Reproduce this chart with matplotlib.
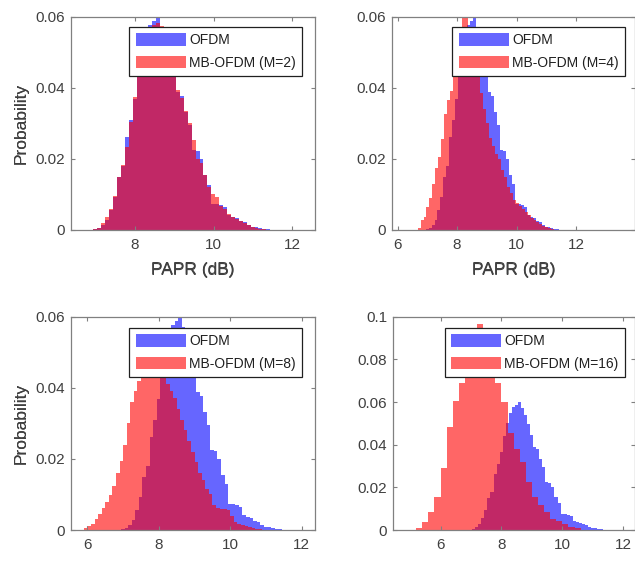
import numpy as np
import matplotlib
matplotlib.use("Agg")
import matplotlib.pyplot as plt

plt.rcParams['font.family'] = ['Liberation Sans', 'DejaVu Sans']

# ---------------- data (bin probabilities) ----------------
ofdm_start, ofdm_width = 6.94, 0.1
ofdm = [0.0002, 0.0006, 0.0013, 0.0028, 0.0055, 0.0093, 0.0150, 0.0180, 0.0262, 0.0310,
        0.0368, 0.0440, 0.0500, 0.0550, 0.0578, 0.0588, 0.0600, 0.0570, 0.0540, 0.0495,
        0.0445, 0.0388, 0.0378, 0.0332, 0.0295, 0.0224, 0.0222, 0.0200, 0.0155, 0.0128,
        0.0074, 0.0074, 0.0070, 0.0065, 0.0043, 0.0037, 0.0033, 0.0026, 0.0022, 0.0013,
        0.0009, 0.0008, 0.0005, 0.0003, 0.0002, 0.0001]

m2_start, m2_width = 6.94, 0.1
mb_m2 = [0.0002, 0.0007, 0.0020, 0.0037, 0.0058, 0.0095, 0.0150, 0.0182, 0.0235, 0.0305,
         0.0375, 0.0445, 0.0500, 0.0545, 0.0570, 0.0578, 0.0582, 0.0574, 0.0545, 0.0500,
         0.0450, 0.0394, 0.0372, 0.0335, 0.0300, 0.0253, 0.0200, 0.0188, 0.0155, 0.0120,
         0.0102, 0.0093, 0.0069, 0.0060, 0.0046, 0.0037, 0.0030, 0.0024, 0.0020, 0.0013,
         0.0008, 0.0006, 0.0004, 0.0002, 0.0001, 0.0001]

m4_start, m4_width = 6.67, 0.1
mb_m4 = [0.0005, 0.0028, 0.0037, 0.0065, 0.0090, 0.0130, 0.0175, 0.0205, 0.0255, 0.0325,
         0.0365, 0.0390, 0.0450, 0.0520, 0.0570, 0.0610, 0.0600, 0.0570, 0.0530, 0.0490,
         0.0440, 0.0385, 0.0340, 0.0300, 0.0260, 0.0235, 0.0215, 0.0200, 0.0170, 0.0150,
         0.0120, 0.0105, 0.0085, 0.0075, 0.0068, 0.0060, 0.0050, 0.0042, 0.0035, 0.0028,
         0.0022, 0.0016, 0.0011, 0.0008, 0.0005, 0.0003]

m8_start, m8_width = 5.9, 0.1
mb_m8 = [0.0006, 0.0010, 0.0018, 0.0030, 0.0045, 0.0062, 0.0080, 0.0098, 0.0125, 0.0160,
         0.0195, 0.0240, 0.0300, 0.0360, 0.0390, 0.0420, 0.0470, 0.0490, 0.0510, 0.0510,
         0.0500, 0.0480, 0.0450, 0.0410, 0.0390, 0.0370, 0.0340, 0.0310, 0.0280, 0.0250,
         0.0220, 0.0190, 0.0160, 0.0140, 0.0115, 0.0100, 0.0070, 0.0062, 0.0060, 0.0058,
         0.0055, 0.0040, 0.0022, 0.0016, 0.0014, 0.0012, 0.0009, 0.0007, 0.0004, 0.0002]

m16_start, m16_width = 5.2, 0.2
mb_m16 = [0.0011, 0.0039, 0.0086, 0.0156, 0.0292, 0.0484, 0.0605, 0.0688, 0.0800, 0.0900,
          0.0965, 0.0880, 0.0800, 0.0688, 0.0600, 0.0457, 0.0380, 0.0320, 0.0225, 0.0155,
          0.0119, 0.0084, 0.0053, 0.0040, 0.0030, 0.0014, 0.0008]

labels = ["MB-OFDM (M=2)", "MB-OFDM (M=4)", "MB-OFDM (M=8)", "MB-OFDM (M=16)"]
reds = [(mb_m2, m2_start, m2_width), (mb_m4, m4_start, m4_width),
        (mb_m8, m8_start, m8_width), (mb_m16, m16_start, m16_width)]
xlims = [(6.36, 12.58), (5.8, 14.0), (5.53, 12.37), (4.43, 12.4)]
xticks = [[8, 10, 12], [6, 8, 10, 12], [6, 8, 10, 12], [6, 8, 10, 12]]
ylims = [0.06, 0.06, 0.06, 0.1]
yticks = [[0, 0.02, 0.04, 0.06], [0, 0.02, 0.04, 0.06], [0, 0.02, 0.04, 0.06],
          [0, 0.02, 0.04, 0.06, 0.08, 0.1]]

# ---------------- layout (pixels) ----------------
W, H = 635, 585
boxes = [(70.7, 17, 315, 230), (391.7, 16.7, 635.5, 230),
         (70.7, 316.7, 315, 530), (392.7, 316.7, 635.5, 530)]
leg_anchor = [(302, 27), (625, 27), (302, 328), (625, 328)]

fig = plt.figure(figsize=(W / 100, H / 100), dpi=100)
axcol = '#808080'
txtcol = '#404040'

def edges(start, width, n):
    return np.round(start + width * np.arange(n + 1), 4)

def fmt(v):
    if v == 0:
        return '0'
    return ('%.2f' % v).rstrip('0').rstrip('.')

for i in range(4):
    l, t, r, b = boxes[i]
    ax = fig.add_axes([l / W, 1 - b / H, (r - l) / W, (b - t) / H])
    be = edges(ofdm_start, ofdm_width, len(ofdm))
    ax.stairs(ofdm, be, fill=True, color=(0, 0, 1), alpha=0.6, linewidth=0, label='OFDM')
    vals, st, wd = reds[i]
    re = edges(st, wd, len(vals))
    ax.stairs(vals, re, fill=True, color=(1, 0, 0), alpha=0.6, linewidth=0, label=labels[i])
    ax.set_xlim(*xlims[i])
    ax.set_ylim(0, ylims[i])
    ax.set_xticks(xticks[i])
    ax.set_yticks(yticks[i])
    ax.set_yticklabels([fmt(v) for v in yticks[i]])
    ax.tick_params(direction='in', length=3, width=0.8, colors=axcol, labelcolor=txtcol,
                   labelsize=11, top=True, right=True)
    ax.tick_params(axis='x', pad=5.5)
    ax.tick_params(axis='y', pad=4)
    for sp in ax.spines.values():
        sp.set_color(axcol)
        sp.set_linewidth(0.9)
    ax.set_xlabel('PAPR (dB)', fontsize=12.5, color=txtcol, fontweight='normal')
    ax.set_ylabel('Probability', fontsize=12.5, color=txtcol, fontweight='normal')
    ax.yaxis.set_label_coords(-(l - 21) / (r - l), 0.5)
    ax.xaxis.set_label_coords(0.5, -(270 - b) / (b - t))
    ax.xaxis.label.set_va('center')
    ax.yaxis.label.set_va('center')
    ax_, ay_ = leg_anchor[i]
    leg = ax.legend(loc='upper right', bbox_to_anchor=(ax_ / W, 1 - ay_ / H),
                    bbox_transform=fig.transFigure, fontsize=10, frameon=True,
                    fancybox=False, shadow=False, handlelength=3.6, handleheight=1.0,
                    handletextpad=0.25, labelspacing=0.6, borderpad=0.45,
                    borderaxespad=0.0)
    fr = leg.get_frame()
    fr.set_edgecolor('#202020')
    fr.set_linewidth(0.9)
    fr.set_alpha(1.0)
    for txt in leg.get_texts():
        txt.set_color('#202020')

fig.savefig('out.png', dpi=100, facecolor='white')
